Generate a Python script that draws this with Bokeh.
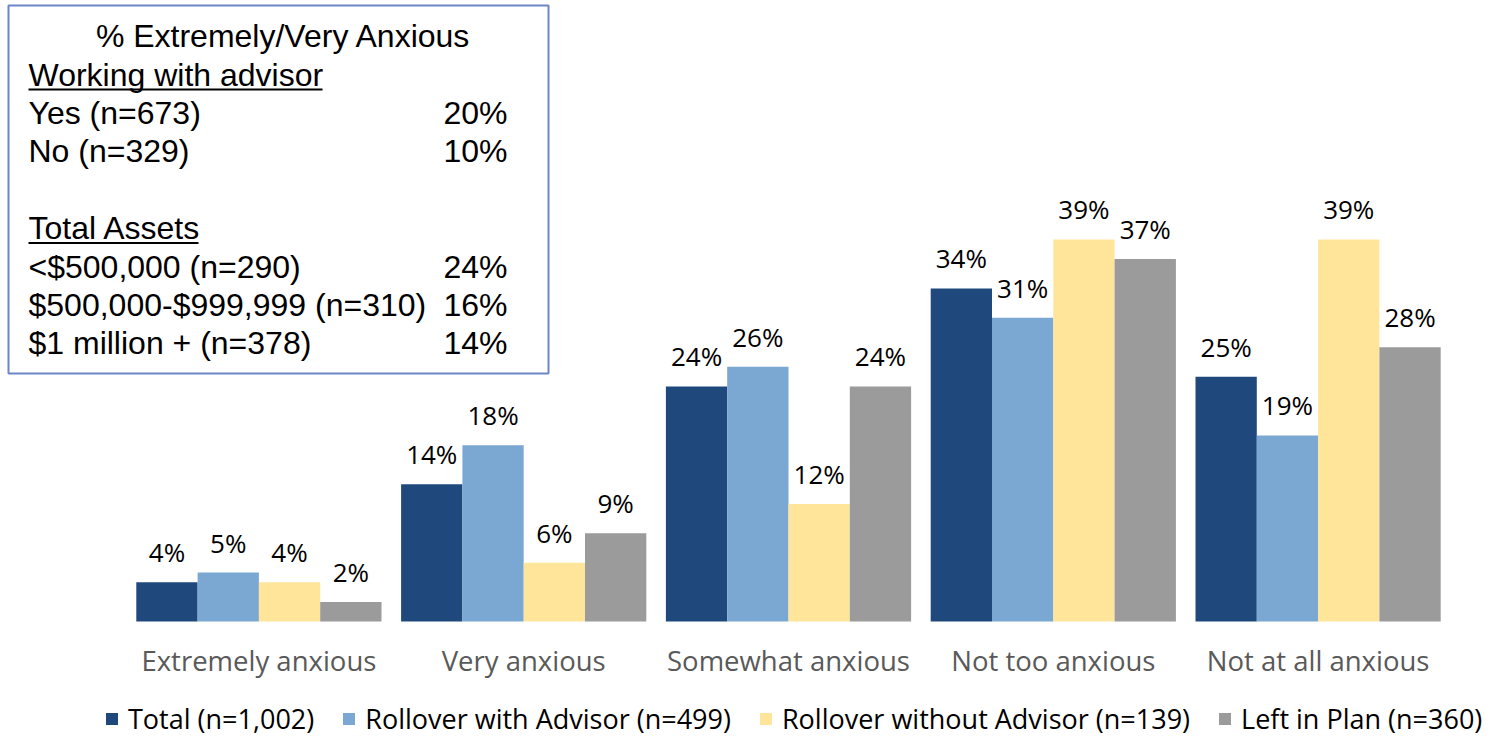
from bokeh.plotting import figure
from bokeh.models import (Range1d, ColumnDataSource, LabelSet, BoxAnnotation,
                          Legend, LegendItem)
from bokeh.core.properties import value
from bokeh.transform import dodge
from bokeh.embed import file_html
from bokeh.resources import INLINE

# ---------------- data ----------------
categories = ["Extremely anxious", "Very anxious", "Somewhat anxious",
              "Not too anxious", "Not at all anxious"]
series = ["Total (n=1,002)", "Rollover with Advisor (n=499)",
          "Rollover without Advisor (n=139)", "Left in Plan (n=360)"]
total = [4, 14, 24, 34, 25]
rollover_with_advisor = [5, 18, 26, 31, 19]
rollover_without_advisor = [4, 6, 12, 39, 39]
left_in_plan = [2, 9, 24, 37, 28]
series_values = [total, rollover_with_advisor, rollover_without_advisor, left_in_plan]
colors = ["#1F497D", "#7BA7D3", "#FFE599", "#9B9B9B"]

box_title = "% Extremely/Very Anxious"
box_sections = ["Working with advisor", "Total Assets"]
advisor_rows = ["Yes (n=673)", "No (n=329)"]
advisor_vals = ["20%", "10%"]
assets_rows = ["<$500,000 (n=290)", "$500,000-$999,999 (n=310)", "$1 million + (n=378)"]
assets_vals = ["24%", "16%", "14%"]

# ---------------- figure ----------------
W, H = 1496, 737
slot_px = 264.8          # width of one category slot
left_px, base_px = 126, 621   # plot area left edge and baseline (from top)
px_per_pct = 9.795
x0 = -left_px / slot_px
y0 = -(H - base_px) / px_per_pct

p = figure(x_range=Range1d(x0, x0 + W / slot_px),
           y_range=Range1d(y0, y0 + H / px_per_pct),
           width=W, height=H, output_backend="svg", toolbar_location=None,
           x_axis_type=None, y_axis_type=None,
           min_border_left=0, min_border_right=0, min_border_top=0, min_border_bottom=0)
p.outline_line_color = None
p.grid.visible = False

cat_x = [i + 0.5 for i in range(len(categories))]

bar_w = 0.2315
offsets = [(k - 1.5) * bar_w for k in range(len(series))]
renderers = []
for k, (name, vals, col) in enumerate(zip(series, series_values, colors)):
    src = ColumnDataSource(dict(x=cat_x, v=vals, lab=[f"{v}%" for v in vals]))
    r = p.vbar(x=dodge("x", offsets[k]), top="v", width=bar_w,
               source=src, fill_color=col, line_color=None)
    renderers.append(r)
    p.add_layout(LabelSet(x=dodge("x", offsets[k]), y="v", text="lab",
                          source=src, text_align="center", text_baseline="alphabetic",
                          y_offset=20, text_font=value("Open Sans"), text_font_size="26px",
                          text_color="#000000"))

# category labels below the bars
cat_src = ColumnDataSource(dict(x=cat_x, y=[0] * len(categories), t=categories))
p.add_layout(LabelSet(x="x", y="y", text="t", source=cat_src, text_align="center",
                      text_baseline="alphabetic", y_offset=-49,
                      text_font=value("Open Sans"), text_font_size="27.5px",
                      text_color="#595959"))

legend = Legend(items=[LegendItem(label=s, renderers=[r]) for s, r in zip(series, renderers)],
                orientation="horizontal", location=(104, 0),
                glyph_width=15, glyph_height=15, label_standoff=9, spacing=27,
                padding=0, margin=0, border_line_color=None, background_fill_alpha=0,
                label_text_font="Open Sans", label_text_font_size="27px",
                label_text_color="#000000")
p.add_layout(legend, "center")

# ---------------- text box (screen units, origin bottom-left of canvas) ----------------
p.add_layout(BoxAnnotation(left=8, right=548, bottom=H - 373, top=H - 5,
                           left_units="screen", right_units="screen",
                           bottom_units="screen", top_units="screen",
                           fill_alpha=0, line_color="#6D86C9", line_alpha=1, line_width=2))

box_font = value("Liberation Sans")
box_size = "32px"
line_gap = 38.4
title_src = ColumnDataSource(dict(x=[283], y=[H - 46.7], t=[box_title]))
p.add_layout(LabelSet(x="x", y="y", text="t", source=title_src, x_units="screen",
                      y_units="screen", text_align="center", text_baseline="alphabetic",
                      text_font=box_font, text_font_size=box_size, text_color="#000000"))

rows = [box_sections[0]] + advisor_rows + [""] + [box_sections[1]] + assets_rows
vals = [""] + advisor_vals + ["", ""] + assets_vals
row_y = [H - 85 - i * line_gap for i in range(len(rows))]
row_src = ColumnDataSource(dict(x=[28] * len(rows), xr=[507] * len(rows), y=row_y,
                                t=rows, v=vals))
p.add_layout(LabelSet(x="x", y="y", text="t", source=row_src, x_units="screen",
                      y_units="screen", text_align="left", text_baseline="alphabetic",
                      text_font=box_font, text_font_size=box_size, text_color="#000000"))
p.add_layout(LabelSet(x="xr", y="y", text="v", source=row_src, x_units="screen",
                      y_units="screen", text_align="right", text_baseline="alphabetic",
                      text_font=box_font, text_font_size=box_size, text_color="#000000"))

# underlines of the two section headings
for (l, r, yb) in [(28, 322, row_y[0]), (28, 198, row_y[4])]:
    p.add_layout(BoxAnnotation(left=l, right=r, bottom=yb - 5, top=yb - 3,
                               left_units="screen", right_units="screen",
                               bottom_units="screen", top_units="screen",
                               fill_color="#000000", fill_alpha=1, line_color=None))

open("out.html", "w").write(file_html(p, INLINE))
